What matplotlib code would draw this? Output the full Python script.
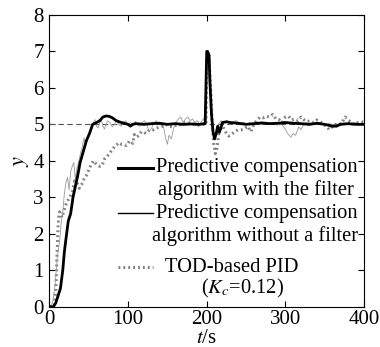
import matplotlib.pyplot as plt

plt.rcParams["font.family"] = ["Liberation Serif", "DejaVu Serif"]
plt.rcParams["mathtext.fontset"] = "stix"

# predictive compensation, with filter
t_f = [0, 5, 8, 11, 14, 17, 19, 21, 24, 27, 30, 33, 36, 39, 43, 47, 51, 55, 60, 64,
       68, 72, 76, 80, 85, 90, 95, 100, 103, 106, 110, 120, 130, 140, 150, 160, 170,
       180, 190, 198, 200, 201, 203, 204, 206, 208, 210, 212, 214, 216, 218, 220, 225,
       230, 240, 250, 260, 270, 280, 290, 300, 310, 320, 330, 340, 350, 360, 365, 370,
       380, 390, 400]
y_f = [0, 0, 0.1, 0.3, 0.5, 1.0, 1.5, 1.85, 2.35, 2.55, 3.0, 3.3, 3.6, 3.95, 4.25,
       4.55, 4.75, 5.0, 5.05, 5.1, 5.2, 5.23, 5.22, 5.18, 5.1, 5.06, 5.03, 5.0, 4.95,
       5.0, 5.02, 5.0, 5.02, 5.03, 5.0, 5.02, 5.0, 5.01, 5.0, 5.02, 7.0, 7.0, 6.9, 6.2,
       5.3, 4.8, 4.6, 4.75, 4.95, 4.78, 4.9, 5.05, 5.07, 5.05, 5.03, 5.0, 5.02, 5.04,
       5.02, 5.03, 5.05, 5.03, 5.02, 5.0, 5.03, 5.0, 4.95, 4.95, 5.0, 5.02, 5.0, 5.0]

# predictive compensation, without filter
t_n = [0, 4, 7, 10, 13, 15, 17, 19, 21, 23, 25, 27, 29, 31, 33, 35, 37, 40, 42, 44,
       46, 48, 50, 52, 54, 56, 58, 60, 62, 64, 66, 68, 70, 72, 74, 77, 80, 83, 85, 88,
       91, 94, 97, 100, 103, 106, 109, 112, 115, 118, 121, 124, 127, 130, 133, 136,
       139, 142, 145, 148, 150, 152, 155, 158, 161, 164, 167, 170, 173, 176, 179, 182,
       185, 188, 191, 194, 197, 199, 200, 201, 203, 205, 207, 209, 211, 213, 215, 218,
       222, 226, 230, 234, 238, 242, 246, 250, 255, 260, 265, 270, 275, 280, 285, 290,
       295, 299, 303, 307, 310, 313, 317, 320, 323, 327, 331, 335, 340, 345, 350, 355,
       360, 365, 370, 375, 380, 385, 390, 395, 400]
y_n = [0, 0.1, 0.55, 1.35, 1.8, 2.3, 2.6, 3.1, 3.4, 3.55, 3.2, 3.7, 3.85, 3.95, 3.5,
       3.8, 3.95, 4.25, 4.4, 4.63, 4.45, 4.55, 4.7, 4.85, 4.9, 5.05, 5.13, 4.95, 4.9,
       5.05, 5.13, 4.95, 4.87, 5.0, 5.1, 5.05, 4.93, 5.0, 5.13, 5.0, 4.95, 5.05, 5.1,
       4.98, 5.05, 4.97, 5.08, 5.0, 4.95, 5.05, 5.1, 4.98, 4.8, 4.9, 5.05, 5.1, 5.0,
       5.05, 4.95, 4.6, 4.45, 4.7, 4.6, 4.9, 5.05, 5.15, 5.2, 5.05, 5.15, 5.2, 5.1,
       5.15, 5.05, 5.1, 5.0, 5.1, 5.18, 5.1, 6.5, 6.95, 6.8, 6.0, 5.1, 4.7, 4.6, 4.8,
       5.0, 5.1, 5.05, 5.1, 5.0, 5.08, 5.1, 5.02, 5.06, 5.0, 5.05, 4.98, 5.02, 5.0,
       5.05, 5.0, 5.02, 4.98, 5.0, 4.9, 4.75, 4.65, 4.75, 4.7, 4.93, 4.85, 5.0, 5.05,
       4.97, 5.02, 5.0, 5.05, 4.98, 5.02, 5.0, 4.97, 5.05, 5.0, 5.02, 4.98, 5.05, 5.0,
       5.0]

# TOD-based PID (Kc = 0.12)
t_p = [0, 3, 6, 8, 9, 10, 11, 12, 13, 14, 16, 18, 20, 23, 26, 29, 32, 35, 38, 41, 44,
       47, 50, 53, 56, 60, 64, 67, 70, 73, 76, 80, 83, 86, 89, 92, 95, 98, 102, 106,
       108, 111, 114, 117, 120, 123, 126, 129, 132, 136, 140, 144, 148, 152, 156, 160,
       164, 168, 172, 176, 180, 185, 190, 195, 199, 200, 201, 203, 205, 207, 209, 211,
       213, 216, 219, 222, 225, 228, 231, 234, 237, 240, 244, 248, 252, 256, 260, 264,
       268, 272, 276, 280, 284, 288, 292, 296, 300, 304, 308, 312, 316, 320, 324, 328,
       332, 336, 340, 344, 348, 352, 356, 360, 364, 368, 372, 376, 380, 384, 388, 392,
       396, 400]
y_p = [0, 0, 0.05, 0.4, 1.0, 1.6, 2.2, 2.5, 2.6, 2.55, 2.45, 2.6, 2.75, 2.9, 3.0,
       3.15, 3.45, 3.4, 3.25, 3.35, 3.5, 3.6, 3.75, 3.9, 4.0, 3.9, 3.85, 3.87, 4.05,
       4.1, 4.2, 4.3, 4.4, 4.45, 4.5, 4.45, 4.45, 4.42, 4.55, 4.48, 4.72, 4.65, 4.7,
       4.8, 4.78, 4.75, 4.82, 4.86, 4.85, 4.9, 4.92, 4.95, 5.0, 4.95, 4.93, 4.97, 5.0,
       4.98, 5.05, 5.05, 5.02, 5.0, 4.98, 5.0, 5.0, 6.4, 6.9, 6.8, 6.0, 5.0, 4.45, 4.2,
       4.35, 4.85, 5.0, 4.88, 4.75, 4.68, 4.72, 4.77, 4.82, 4.85, 4.85, 4.88, 4.95,
       4.8, 5.0, 5.12, 5.2, 5.18, 5.22, 5.2, 5.27, 5.15, 5.13, 5.05, 5.2, 5.22, 5.12,
       5.15, 5.1, 5.2, 5.12, 5.08, 5.1, 5.05, 5.12, 5.08, 5.0, 4.95, 4.85, 4.95, 5.0,
       4.98, 5.05, 5.2, 5.12, 5.05, 5.0, 5.05, 5.08, 5.05]

setpoint = 5
x_ticks = [0, 100, 200, 300, 400]
y_ticks = [0, 1, 2, 3, 4, 5, 6, 7, 8]

fig = plt.figure(figsize=(3.8, 3.47), dpi=100)
ax = fig.add_axes([0.13, 0.116, 0.828, 0.841])

ax.axhline(setpoint, color="#555555", lw=0.8, ls=(0, (5, 3)))
ax.plot(t_p, y_p, color="#808080", lw=2.2, ls=(0, (0.6, 1.0)))
ax.plot(t_n, y_n, color="#999999", lw=0.6)
ax.plot(t_f, y_f, color="black", lw=2.0)

ax.set_xlim(0, 400)
ax.set_ylim(0, 8)
ax.set_xticks(x_ticks)
ax.set_yticks(y_ticks)
ax.tick_params(direction="in", top=True, right=True, labelsize=15, length=4)
ax.tick_params(axis="x", pad=2)
ax.tick_params(axis="y", pad=4)
ax.set_xlabel("$t$/s", fontsize=15, labelpad=0)
ax.set_ylabel("$y$", fontsize=16, labelpad=2)

# legend drawn by hand so handles line up with the first text line
lk = dict(transform=ax.transAxes, clip_on=False)
ax.plot([0.219, 0.33], [0.476, 0.476], color="black", lw=2.2, **lk)
ax.plot([0.219, 0.33], [0.321, 0.321], color="black", lw=1.0, **lk)
ax.plot([0.219, 0.33], [0.136, 0.136], color="#808080", lw=2.2, ls=(0, (0.6, 1.0)), **lk)
tk = dict(transform=ax.transAxes, ha="center", va="center", fontsize=14.8)
ax.text(0.658, 0.476, "Predictive compensation", **tk)
ax.text(0.655, 0.400, "algorithm with the filter", **tk)
ax.text(0.658, 0.321, "Predictive compensation", **tk)
ax.text(0.655, 0.242, "algorithm without a filter", **tk)
ax.text(0.578, 0.136, "TOD-based PID", **tk)
ax.text(0.615, 0.061, "($K_c$=0.12)", **tk)

fig.savefig("out.png", dpi=100)
